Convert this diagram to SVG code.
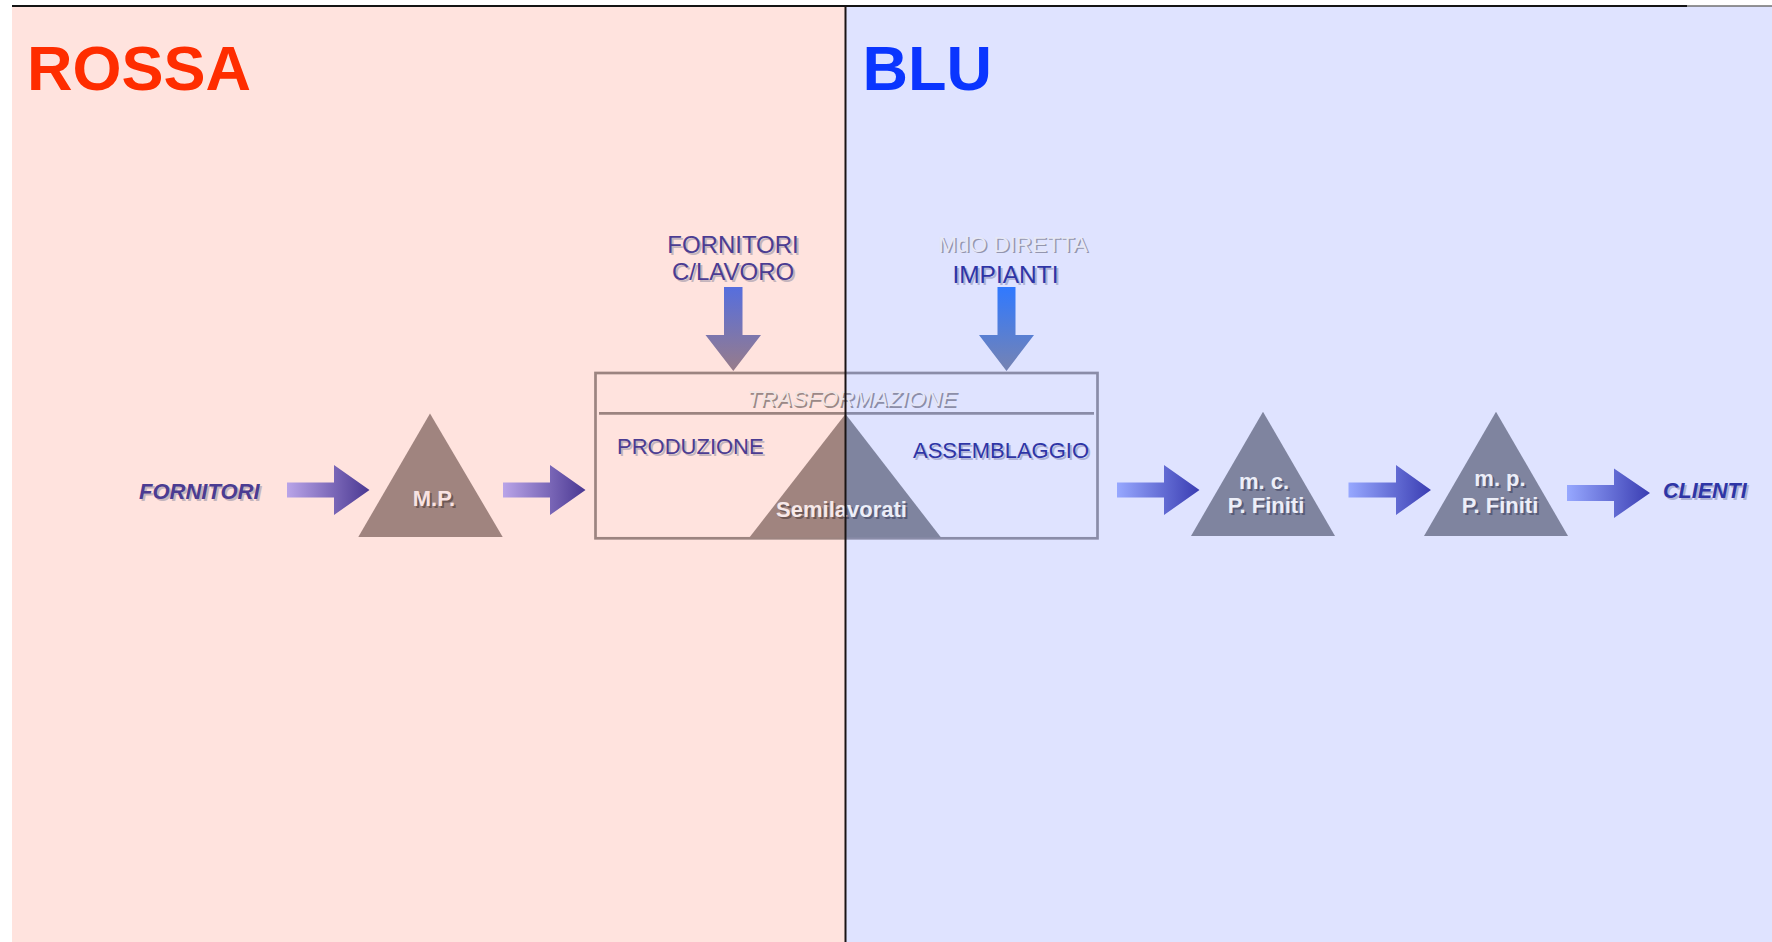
<svg xmlns="http://www.w3.org/2000/svg" width="1772" height="942" viewBox="0 0 1772 942">
<defs>
<style>
.t{font-family:"Liberation Sans",Arial,sans-serif}
.b{font-weight:bold}
.i{font-style:italic}
.pur{fill:#4B3C92}
.purS{fill:#C4B4BC}
.blu{fill:#2E35A6}
.bluS{fill:#AEB2D6}
.triL{fill:#A0847F}
.triR{fill:#7F849F}
.boxL{fill:none;stroke:#9C8480;stroke-width:2.7}
.boxR{fill:none;stroke:#8A8CA8;stroke-width:2.7}
.shD{fill:#585C78}
.lt{fill:#ECEEF8}
</style>
<linearGradient id="gL" x1="0" y1="0" x2="1" y2="0">
<stop offset="0" stop-color="#B9A4E8"/><stop offset="1" stop-color="#4A3892"/>
</linearGradient>
<linearGradient id="gR" x1="0" y1="0" x2="1" y2="0">
<stop offset="0" stop-color="#97A8FF"/><stop offset="1" stop-color="#3A3DB2"/>
</linearGradient>
<linearGradient id="gV1" x1="0" y1="0" x2="0" y2="1">
<stop offset="0" stop-color="#566EDE"/><stop offset="1" stop-color="#987C8A"/>
</linearGradient>
<linearGradient id="gV2" x1="0" y1="0" x2="0" y2="1">
<stop offset="0" stop-color="#3079FF"/><stop offset="1" stop-color="#7683B2"/>
</linearGradient>
<clipPath id="clipL"><rect x="0" y="0" width="845.5" height="942"/></clipPath>
<clipPath id="clipR"><rect x="845.5" y="0" width="927" height="942"/></clipPath>
</defs>

<rect x="0" y="0" width="1772" height="942" fill="#FFFFFF"/>
<g id="zones">
<rect x="12" y="6" width="834" height="936" fill="#FFE3DE"/>
<rect x="846" y="6" width="926" height="936" fill="#DFE3FF"/>
<text class="t b" x="27" y="90" font-size="63" fill="#FF2D00">ROSSA</text>
<text class="t b" x="862.5" y="90" font-size="63" fill="#0A35FF">BLU</text>
</g>

<g id="fornitori">
<text class="t b i purS" x="141" y="501" font-size="22">FORNITORI</text>
<text class="t b i pur" x="139" y="499" font-size="22">FORNITORI</text>
</g>

<g id="mp">
<polygon class="triL" points="430,413.5 358.3,537 502.7,537"/>
<text class="t b" x="436" y="507.5" font-size="22" text-anchor="middle" fill="#6E5855">M.P.</text>
<text class="t b" x="434" y="505.5" font-size="22" text-anchor="middle" fill="#F8E2E2">M.P.</text>
</g>

<g id="fornitori-clavoro">
<text class="t purS" x="735" y="255.3" font-size="24" text-anchor="middle">FORNITORI</text>
<text class="t pur" x="733" y="253.3" font-size="24" text-anchor="middle">FORNITORI</text>
<text class="t purS" x="735" y="282" font-size="24" text-anchor="middle">C/LAVORO</text>
<text class="t pur" x="733" y="280" font-size="24" text-anchor="middle">C/LAVORO</text>
</g>

<g id="mdo-impianti">
<text class="t" x="1014.5" y="253.2" font-size="22.5" text-anchor="middle" fill="#9496AE">MdO DIRETTA</text>
<text class="t" x="1013" y="251.7" font-size="22.5" text-anchor="middle" fill="#E6E8F6">MdO DIRETTA</text>
<text class="t bluS" x="1007.5" y="284.7" font-size="24.5" text-anchor="middle">IMPIANTI</text>
<text class="t blu" x="1005.5" y="282.7" font-size="24.5" text-anchor="middle">IMPIANTI</text>
</g>

<g id="trasformazione">
<g clip-path="url(#clipL)">
<rect class="boxL" x="595.5" y="373" width="502" height="165.3"/>
<line class="boxL" x1="599" y1="413.3" x2="1094" y2="413.3"/>
<polygon class="triL" points="845.5,414 749.4,537.5 941,537.5"/>
<text class="t i" x="853.5" y="407.5" font-size="22.5" text-anchor="middle" fill="#9A8886">TRASFORMAZIONE</text>
<text class="t i" x="852" y="406" font-size="22.5" text-anchor="middle" fill="#F0E4E2">TRASFORMAZIONE</text>
<text class="t b" x="843.5" y="518.7" font-size="22" text-anchor="middle" fill="#6E5855">Semilavorati</text>
<text class="t b" x="841.5" y="516.7" font-size="22" text-anchor="middle" fill="#F6E8E8">Semilavorati</text>
</g>
<g clip-path="url(#clipR)">
<rect class="boxR" x="595.5" y="373" width="502" height="165.3"/>
<line class="boxR" x1="599" y1="413.3" x2="1094" y2="413.3"/>
<polygon class="triR" points="845.5,414 749.4,537.5 941,537.5"/>
<text class="t i" x="853.5" y="407.5" font-size="22.5" text-anchor="middle" fill="#8C8EA8">TRASFORMAZIONE</text>
<text class="t i" x="852" y="406" font-size="22.5" text-anchor="middle" fill="#E4E6F6">TRASFORMAZIONE</text>
<text class="t b shD" x="843.5" y="518.7" font-size="22" text-anchor="middle">Semilavorati</text>
<text class="t b lt" x="841.5" y="516.7" font-size="22" text-anchor="middle">Semilavorati</text>
</g>
<text class="t purS" x="619" y="456.3" font-size="22">PRODUZIONE</text>
<text class="t pur" x="617" y="454.3" font-size="22">PRODUZIONE</text>
<text class="t bluS" x="915" y="460.3" font-size="22">ASSEMBLAGGIO</text>
<text class="t blu" x="913" y="458.3" font-size="22">ASSEMBLAGGIO</text>
</g>

<g id="mc">
<polygon class="triR" points="1263,411.7 1191,536 1335,536"/>
<text class="t b shD" x="1266" y="491" font-size="22" text-anchor="middle">m. c.</text>
<text class="t b lt" x="1264" y="489" font-size="22" text-anchor="middle">m. c.</text>
<text class="t b shD" x="1268" y="515" font-size="22" text-anchor="middle">P. Finiti</text>
<text class="t b lt" x="1266" y="513" font-size="22" text-anchor="middle">P. Finiti</text>
</g>

<g id="mpf">
<polygon class="triR" points="1496,411.7 1424,536 1568,536"/>
<text class="t b shD" x="1502" y="487.5" font-size="22" text-anchor="middle">m. p.</text>
<text class="t b lt" x="1500" y="485.5" font-size="22" text-anchor="middle">m. p.</text>
<text class="t b shD" x="1502" y="514.5" font-size="22" text-anchor="middle">P. Finiti</text>
<text class="t b lt" x="1500" y="512.5" font-size="22" text-anchor="middle">P. Finiti</text>
</g>

<g id="clienti">
<text class="t b i bluS" x="1665" y="500.3" font-size="21.5">CLIENTI</text>
<text class="t b i blu" x="1663" y="498.3" font-size="21.5">CLIENTI</text>
</g>

<g id="connectors">
<path d="M287,482.5 H334 V465 L369.5,490 L334,515 V497.5 H287Z" fill="url(#gL)"/>
<path d="M503,482.5 H550 V465 L585.5,490 L550,515 V497.5 H503Z" fill="url(#gL)"/>
<path d="M1117,482.5 H1164 V465 L1199.5,490 L1164,515 V497.5 H1117Z" fill="url(#gR)"/>
<path d="M1348.5,482.5 H1396 V465 L1431,490 L1396,515 V497.5 H1348.5Z" fill="url(#gR)"/>
<path d="M1567,485 H1614 V468.5 L1650,493 L1614,518 V501 H1567Z" fill="url(#gR)"/>
<path d="M724,287 H742.5 V335 H761 L733.3,371 L705.5,335 H724Z" fill="url(#gV1)"/>
<path d="M997.5,287 H1015.5 V335 H1034 L1006.5,371 L979,335 H997.5Z" fill="url(#gV2)"/>
</g>

<g id="frame">
<line x1="12" y1="6" x2="1687" y2="6" stroke="#141414" stroke-width="2.2"/>
<line x1="1687" y1="6" x2="1772" y2="6" stroke="#707070" stroke-width="1.6"/>
<line x1="845.5" y1="6" x2="845.5" y2="942" stroke="#1A1414" stroke-width="2"/>
</g>
</svg>
